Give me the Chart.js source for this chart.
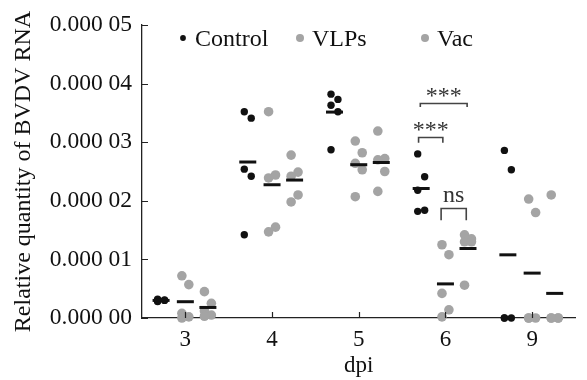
<!DOCTYPE html>
<html lang="en">
<head>
<meta charset="UTF-8">
<title>Relative quantity of BVDV RNA</title>
<script src="https://cdn.jsdelivr.net/npm/chart.js"></script>
<style>
  html, body { margin: 0; padding: 0; background: #fff; }
  #wrap { width: 587px; height: 380px; }
</style>
</head>
<body>
<div id="wrap"><canvas id="chart"></canvas></div>
<script>
    // dpi categories (x axis)
    const dpiLabels = ['3', '4', '5', '6', '9'];

    // five animals per group and time point
    const controlValues = [
        [0.32e-5, 0.30e-5, 0.29e-5, 0.31e-5, 0.28e-5],
        [3.52e-5, 3.41e-5, 2.54e-5, 2.42e-5, 1.42e-5],
        [3.82e-5, 3.73e-5, 3.63e-5, 3.52e-5, 2.87e-5],
        [2.80e-5, 2.41e-5, 2.18e-5, 1.84e-5, 1.82e-5],
        [2.86e-5, 2.53e-5, 0, 0, 0]
    ];
    const vlpValues = [
        [0.72e-5, 0.57e-5, 0.08e-5, 0.02e-5, 0],
        [3.52e-5, 2.44e-5, 2.39e-5, 1.55e-5, 1.47e-5],
        [3.02e-5, 2.82e-5, 2.64e-5, 2.53e-5, 2.07e-5],
        [1.25e-5, 1.08e-5, 0.42e-5, 0.14e-5, 0.02e-5],
        [2.03e-5, 1.80e-5, 0, 0, 0]
    ];
    const vacValues = [
        [0.45e-5, 0.25e-5, 0.12e-5, 0.05e-5, 0.03e-5],
        [2.78e-5, 2.49e-5, 2.42e-5, 2.10e-5, 1.98e-5],
        [3.19e-5, 2.72e-5, 2.70e-5, 2.50e-5, 2.16e-5],
        [1.42e-5, 1.35e-5, 1.30e-5, 1.30e-5, 0.56e-5],
        [2.10e-5, 0, 0, 0, 0]
    ];

    const yTicks = [0, 1e-5, 2e-5, 3e-5, 4e-5, 5e-5];

    const SERIF = '"Liberation Serif", "Times New Roman", serif';
    const GRAY = '#a4a4a4';

    const groups = [
        { label: 'Control', values: controlValues, color: '#111', radius: 3.7, offset: -0.28 },
        { label: 'VLPs', values: vlpValues, color: GRAY, radius: 4.8, offset: 0 },
        { label: 'Vac', values: vacValues, color: GRAY, radius: 4.8, offset: 0.26 }
    ];

    // significance marks at 6 dpi (category index 3)
    const brackets = [
        { x1: 3 - 0.29, x2: 3 + 0.25, top: 3.67e-5, foot: 3.60e-5, text: '***', size: 24, lift: 0 },
        { x1: 3 - 0.31, x2: 3 - 0.03, top: 3.09e-5, foot: 2.99e-5, text: '***', size: 24, lift: 0 },
        { x1: 3 - 0.05, x2: 3 + 0.24, top: 1.88e-5, foot: 1.67e-5, text: 'ns', size: 24, lift: 6 }
    ];

    function mean(arr) {
        return arr.reduce((a, b) => a + b, 0) / arr.length;
    }

    function pointsFor(g) {
        const pts = [];
        g.values.forEach((arr, i) => {
            arr.forEach((v, j) => {
                const jitter = j % 2 === 0 ? -0.04 : 0.04;
                pts.push({ x: i + g.offset + jitter, y: v });
            });
        });
        return pts;
    }

    const datasets = [];
    groups.forEach((g) => {
        datasets.push({
            label: g.label,
            data: pointsFor(g),
            pointRadius: g.radius,
            pointBackgroundColor: g.color,
            pointBorderColor: g.color,
            pointBorderWidth: 0,
            order: 2,
            clip: false
        });
    });
    groups.forEach((g) => {
        datasets.push({
            label: g.label + ' mean',
            data: g.values.map((arr, i) => ({ x: i + g.offset, y: mean(arr) })),
            pointStyle: 'line',
            pointRadius: 8.5,
            pointBorderWidth: 3,
            pointBorderColor: '#111',
            order: 1,
            clip: false
        });
    });

    // inward tick marks on both axes
    const innerTicks = {
        id: 'innerTicks',
        afterDraw(chart) {
            const { ctx, chartArea, scales } = chart;
            ctx.save();
            ctx.strokeStyle = '#222';
            ctx.lineWidth = 1.2;
            ctx.beginPath();
            yTicks.forEach((t) => {
                const y = Math.round(scales.y.getPixelForValue(t)) + 0.5;
                ctx.moveTo(chartArea.left, y);
                ctx.lineTo(chartArea.left + 6, y);
            });
            dpiLabels.forEach((_, i) => {
                const x = Math.round(scales.x.getPixelForValue(i)) + 0.5;
                ctx.moveTo(x, chartArea.bottom);
                ctx.lineTo(x, chartArea.bottom - 6);
            });
            ctx.stroke();
            ctx.restore();
        }
    };

    const bracketMarks = {
        id: 'bracketMarks',
        afterDatasetsDraw(chart) {
            const { ctx, scales } = chart;
            ctx.save();
            brackets.forEach((b) => {
                const x1 = scales.x.getPixelForValue(b.x1);
                const x2 = scales.x.getPixelForValue(b.x2);
                const yt = Math.round(scales.y.getPixelForValue(b.top)) + 0.5;
                const yf = scales.y.getPixelForValue(b.foot);
                ctx.strokeStyle = '#444';
                ctx.lineWidth = 1.6;
                ctx.beginPath();
                ctx.moveTo(x1, yf);
                ctx.lineTo(x1, yt);
                ctx.lineTo(x2, yt);
                ctx.lineTo(x2, yf);
                ctx.stroke();
                ctx.fillStyle = '#333';
                ctx.font = b.size + 'px ' + SERIF;
                ctx.textAlign = 'center';
                ctx.textBaseline = 'alphabetic';
                ctx.fillText(b.text, (x1 + x2) / 2, yt - 1 - b.lift);
            });
            ctx.restore();
        }
    };

    // legend inside the plot, along the top
    const topLegend = {
        id: 'topLegend',
        afterDraw(chart) {
            const { ctx, chartArea } = chart;
            const xs = [41, 158, 283];
            const y = chartArea.top + 13;
            ctx.save();
            ctx.font = '24px ' + SERIF;
            ctx.textBaseline = 'middle';
            ctx.textAlign = 'left';
            groups.forEach((g, i) => {
                const x = chartArea.left + xs[i];
                ctx.fillStyle = g.color;
                ctx.beginPath();
                ctx.arc(x, y, g.radius - 0.8, 0, Math.PI * 2);
                ctx.fill();
                ctx.fillStyle = '#111';
                ctx.fillText(g.label, x + 12, y + 2);
            });
            ctx.restore();
        }
    };

    new Chart(document.getElementById('chart'), {
        type: 'scatter',
        data: { datasets: datasets },
        options: {
            responsive: true,
            maintainAspectRatio: false,
            animation: false,
            events: [],
            layout: { padding: { top: 25, right: 0, bottom: 0, left: 0 } },
            plugins: {
                legend: { display: false },
                tooltip: { enabled: false }
            },
            scales: {
                x: {
                    type: 'linear',
                    min: -0.5,
                    max: 4.5,
                    afterBuildTicks: (scale) => {
                        scale.ticks = dpiLabels.map((_, i) => ({ value: i }));
                    },
                    afterFit: (scale) => { scale.height = 62; },
                    grid: { display: false, drawTicks: false },
                    border: { display: true, color: '#222', width: 1.3 },
                    ticks: {
                        padding: 8,
                        color: '#111',
                        font: { family: SERIF, size: 23 },
                        callback: (v) => dpiLabels[v]
                    },
                    title: {
                        display: true,
                        text: 'dpi',
                        color: '#111',
                        font: { family: SERIF, size: 23 },
                        padding: { top: 0, bottom: 0 }
                    }
                },
                y: {
                    min: 0,
                    max: 5e-5,
                    afterBuildTicks: (scale) => {
                        scale.ticks = yTicks.map((v) => ({ value: v }));
                    },
                    afterFit: (scale) => { scale.width = 142; },
                    grid: { display: false, drawTicks: false },
                    border: { display: true, color: '#222', width: 1.3 },
                    ticks: {
                        padding: 10,
                        color: '#111',
                        font: { family: SERIF, size: 23.5 },
                        callback: (v) => {
                            const s = v.toFixed(5);
                            return s.slice(0, 5) + ' ' + s.slice(5);
                        }
                    },
                    title: {
                        display: true,
                        text: 'Relative quantity of BVDV RNA',
                        color: '#111',
                        font: { family: SERIF, size: 24 },
                        padding: { top: 9, bottom: 0 }
                    }
                }
            }
        },
        plugins: [innerTicks, bracketMarks, topLegend]
    });
</script>
</body>
</html>
